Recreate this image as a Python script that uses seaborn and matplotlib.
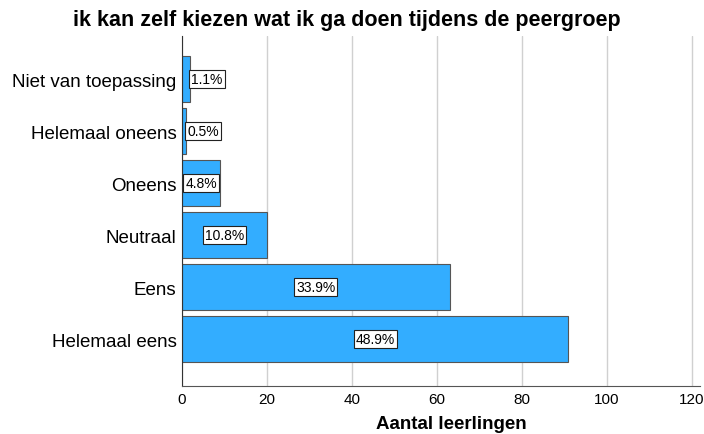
import matplotlib
matplotlib.use("Agg")
import matplotlib.pyplot as plt
import seaborn as sns
import pandas as pd

# antwoorden en aantallen (n = 186)
categories = ["Niet van toepassing", "Helemaal oneens", "Oneens", "Neutraal", "Eens", "Helemaal eens"]
counts = [2, 1, 9, 20, 63, 91]
pct_labels = ["1.1%", "0.5%", "4.8%", "10.8%", "33.9%", "48.9%"]


def main():
    sns.set_style("white")
    plt.rcParams['font.family'] = ['Liberation Sans', 'DejaVu Sans']
    plt.rcParams['text.color'] = 'black'
    plt.rcParams['xtick.color'] = 'black'
    plt.rcParams['ytick.color'] = 'black'
    plt.rcParams['axes.labelcolor'] = 'black'

    df = pd.DataFrame({'antwoord': categories, 'aantal': counts})

    fig = plt.figure(figsize=(7.04, 4.35), dpi=100)
    ax = fig.add_axes([0.2585, 0.11, 0.736, 0.805])

    sns.barplot(data=df, y='antwoord', x='aantal', order=categories, orient='h',
                color='#33adff', saturation=1, edgecolor='#555555', linewidth=0.8,
                width=0.88, ax=ax)

    # percentage labels in witte kaders
    for i, (v, lab) in enumerate(zip(counts, pct_labels)):
        if v < 5:
            x, ha = v + 0.2, 'left'
        else:
            x, ha = v / 2, 'center'
        ax.text(x, i, lab, ha=ha, va='center', fontsize=10,
                bbox=dict(boxstyle='square,pad=0.15', fc='white', ec='#222222', lw=0.8))

    ax.set_xlim(0, 122)
    ax.set_ylim(5.9, -0.83)
    ax.set_xticks(range(0, 121, 20))
    ax.xaxis.grid(True, color='#d0d0d0', linewidth=1)
    ax.set_axisbelow(True)
    ax.tick_params(axis='x', length=0, labelsize=11, pad=4)
    ax.tick_params(axis='y', length=0, labelsize=13.5, pad=4)
    for s in ['top', 'right']:
        ax.spines[s].set_visible(False)
    ax.spines['left'].set_color('#333333')
    ax.spines['bottom'].set_color('#555555')

    ax.set_ylabel('')
    ax.set_xlabel('Aantal leerlingen', fontsize=13.5, fontweight='bold', va='center')
    ax.xaxis.set_label_coords(0.52, -0.108)

    fig.text(0.493, 0.953, 'ik kan zelf kiezen wat ik ga doen tijdens de peergroep',
             ha='center', va='center', fontsize=15.5, fontweight='bold')

    fig.savefig('out.png', dpi=100)


if __name__ == "__main__":
    main()
